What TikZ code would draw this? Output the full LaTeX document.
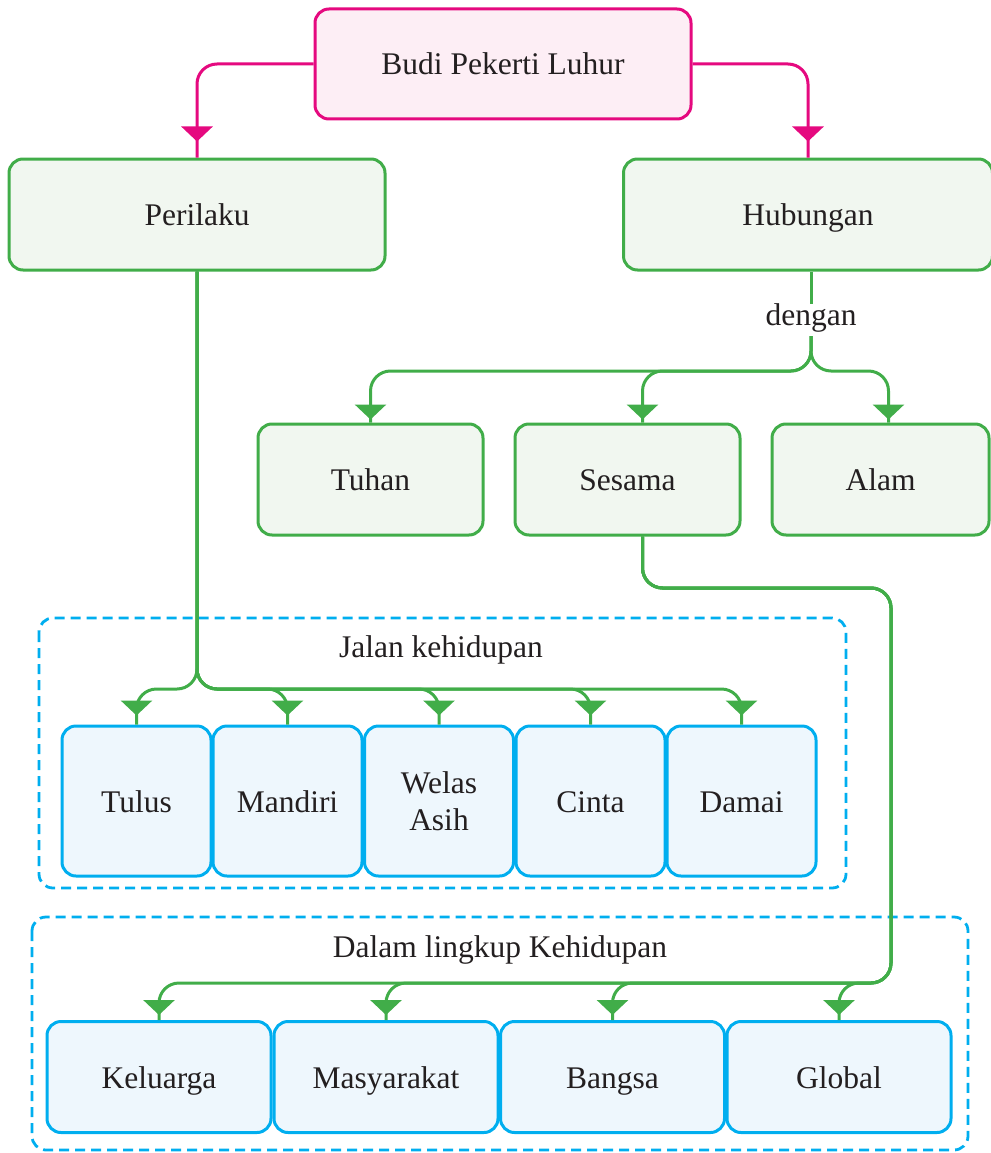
\documentclass[tikz,border=0pt]{standalone}
\usepackage{fontspec}
\setmainfont{Liberation Serif}
\usetikzlibrary{arrows.meta,decorations.markings,calc}
\definecolor{pk}{HTML}{E5097F}
\definecolor{pkfill}{HTML}{FDEEF5}
\definecolor{gr}{HTML}{41AD49}
\definecolor{grfill}{HTML}{F1F7F0}
\definecolor{bl}{HTML}{00AEEF}
\definecolor{blfill}{HTML}{EEF7FD}
\definecolor{txt}{HTML}{231F20}
\tikzset{
  box/.style={rectangle, rounded corners=14pt, line width=3pt, text=txt,
    font=\fontsize{31.5}{37}\selectfont, inner sep=0pt, text height=26pt, text depth=4pt},
  pbox/.style={box, draw=pk, fill=pkfill, minimum width=376pt, minimum height=110pt},
  gbox/.style={box, draw=gr, fill=grfill, minimum height=111pt},
  bbox/.style={box, draw=bl, fill=blfill},
  conn/.style={line width=3pt, rounded corners=20pt},
  tipd/.style={postaction={decorate,decoration={markings,
    mark=at position -#1 with {\arrow{Triangle[width=31pt,length=15pt]}}}}},
  frame/.style={draw=bl, line width=2.8pt, dash pattern=on 10pt off 6pt, rounded corners=14pt},
  lbl/.style={text=txt, font=\fontsize{31.5}{37}\selectfont, inner sep=2pt, text height=26pt, text depth=4pt},
}
\begin{document}
\begin{tikzpicture}[x=1pt,y=-1pt]
\useasboundingbox (0,0) rectangle (990,1153);
% frames
\draw[frame] (39,618) rectangle (846,888);
\draw[frame] (32,917) rectangle (968,1150);
\node[lbl] (jalan) at (441,646) {Jalan kehidupan};
\node[lbl] (dalam) at (500,946) {Dalam lingkup Kehidupan};
% nodes
\node[pbox] (budi) at (503,64) {Budi Pekerti Luhur};
\node[gbox, minimum width=376pt] (perilaku) at (197,214.5) {Perilaku};
\node[gbox, minimum width=369pt] (hubungan) at (808,214.5) {Hubungan};
\node[gbox, minimum width=225pt] (tuhan) at (370.5,479.5) {Tuhan};
\node[gbox, minimum width=225pt] (sesama) at (627.5,479.5) {Sesama};
\node[gbox, minimum width=217pt] (alam) at (880.5,479.5) {Alam};
\node[lbl, text height=19pt, text depth=9pt] (dengan) at (811,320) {dengan};
\foreach \n/\x/\t in {tulus/136.5/Tulus, mandiri/287.5/Mandiri, cinta/590.5/Cinta, damai/741.5/Damai}
  \node[bbox, minimum width=149pt, minimum height=150pt] (\n) at (\x,801) {\t};
\node[bbox, minimum width=149pt, minimum height=150pt, text height=, text depth=, align=center] (welas) at (439,801) {Welas\\Asih};
\foreach \n/\x/\t in {keluarga/159/Keluarga, masyarakat/386/Masyarakat, bangsa/612.5/Bangsa, global/839/Global}
  \node[bbox, minimum width=224pt, minimum height=111pt] (\n) at (\x,1077) {\t};
% pink connectors
\draw[conn, draw=pk, tipd=16pt] (budi.west) -| (perilaku.north);
\draw[conn, draw=pk, tipd=16pt] (budi.east) -| (hubungan.north);
% hubungan
\draw[conn, draw=gr] (hubungan.south -| dengan) -- (dengan.north);
\draw[conn, draw=gr, tipd=3pt] (dengan.south) |- (tuhan.north |- 0,371) -- (tuhan.north);
\draw[conn, draw=gr, tipd=3pt] (dengan.south) |- ([xshift=15pt]sesama.north |- 0,371) -- ([xshift=15pt]sesama.north);
\draw[conn, draw=gr, tipd=3pt] (dengan.south) |- ([xshift=8pt]alam.north |- 0,371) -- ([xshift=8pt]alam.north);
% perilaku
\foreach \n in {tulus,mandiri,welas,cinta,damai}
  \draw[conn, draw=gr, tipd=9pt] (perilaku.south) |- (\n.north |- 0,689) -- (\n.north);
% sesama
\foreach \n in {keluarga,masyarakat,bangsa,global}
  \draw[conn, draw=gr, tipd=5pt] ([xshift=15pt]sesama.south) |- (891,588) -- (891,983) -| (\n.north);
\end{tikzpicture}
\end{document}
